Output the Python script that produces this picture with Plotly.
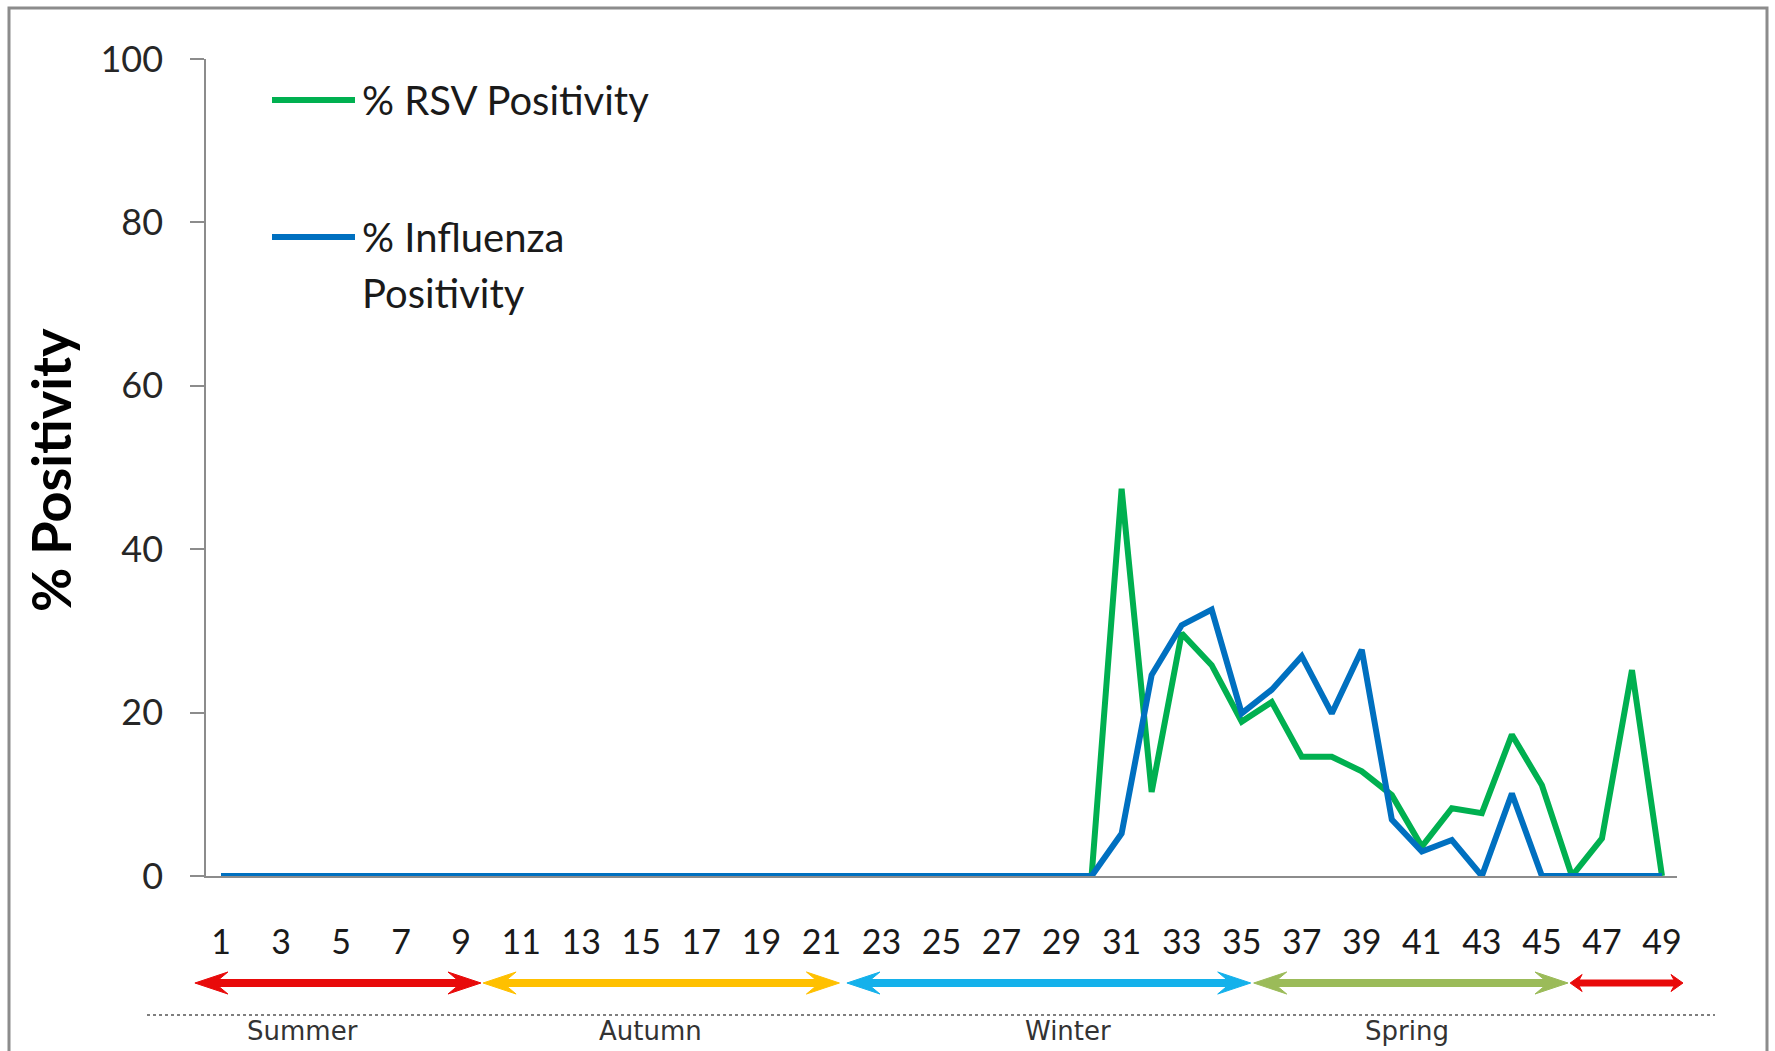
import plotly.graph_objects as go

# ---------------- data ----------------
weeks = list(range(1, 50))
rsv_positivity = [0, 0, 0, 0, 0, 0, 0, 0, 0, 0,
                  0, 0, 0, 0, 0, 0, 0, 0, 0, 0,
                  0, 0, 0, 0, 0, 0, 0, 0, 0, 0,
                  47.4, 10.3, 29.7, 25.8, 18.9, 21.3, 14.6, 14.6, 12.8, 9.9,
                  3.6, 8.3, 7.7, 17.3, 11.1, 0, 4.6, 25.2, 0]
flu_positivity = [0, 0, 0, 0, 0, 0, 0, 0, 0, 0,
                  0, 0, 0, 0, 0, 0, 0, 0, 0, 0,
                  0, 0, 0, 0, 0, 0, 0, 0, 0, 0,
                  5.2, 24.6, 30.7, 32.6, 19.9, 22.8, 26.9, 19.9, 27.7, 6.9,
                  3.0, 4.4, 0, 10.1, 0, 0, 0, 0, 0]
x_tick_weeks = list(range(1, 50, 2))
y_ticks = [0, 20, 40, 60, 80, 100]

season_arrow_start = [0.13, 9.73, 21.85, 35.4, 45.94]
season_arrow_end = [9.66, 21.6, 35.3, 45.87, 49.7]
season_names = ["Summer", "Autumn", "Winter", "Spring"]
season_label_week = [3.7, 15.3, 29.2, 40.5]

# ---------------- styles / layout geometry ----------------
W, H = 1775, 1051
ML, MR, MT, MB = 206, 98, 59, 175
PW, PH = W - ML - MR, H - MT - MB
XR = [0.5, 49.5]
GREEN, BLUE = "#00B050", "#0070C0"
AXIS_GREY = "#8C8C8C"
arrow_colors = ["#E80A0A", "#FFC000", "#14B1EB", "#9BBB59", "#E80A0A"]
arrow_big = [True, True, True, True, False]
FONT = "Lato"


def px_x(px):
    return (px - ML) / PW


def px_y(py):
    return (H - MB - py) / PH


def week_x(w):
    return (w - XR[0]) / (XR[1] - XR[0])


fig = go.Figure()
fig.add_trace(go.Scatter(x=weeks, y=rsv_positivity, mode="lines", name="% RSV Positivity",
                         line=dict(color=GREEN, width=6), showlegend=False))
fig.add_trace(go.Scatter(x=weeks, y=flu_positivity, mode="lines", name="% Influenza Positivity",
                         line=dict(color=BLUE, width=6), showlegend=False))

shapes = []
annotations = []

# outer frame
shapes.append(dict(type="rect", xref="paper", yref="paper",
                   x0=px_x(9), x1=px_x(1767), y0=px_y(1200), y1=px_y(8),
                   line=dict(color=AXIS_GREY, width=3), fillcolor="rgba(0,0,0,0)", layer="below"))

# legend (manual)
shapes.append(dict(type="line", xref="paper", yref="paper", x0=px_x(272), x1=px_x(355),
                   y0=px_y(100), y1=px_y(100), line=dict(color=GREEN, width=6)))
shapes.append(dict(type="line", xref="paper", yref="paper", x0=px_x(272), x1=px_x(355),
                   y0=px_y(237), y1=px_y(237), line=dict(color=BLUE, width=6)))
for txt, py in [("% RSV Positivity", 100), ("% Influenza", 237), ("Positivity", 293)]:
    annotations.append(dict(text=txt, xref="paper", yref="paper", x=px_x(360), y=px_y(py),
                            xanchor="left", yanchor="middle", showarrow=False,
                            font=dict(family=FONT, size=40, color="#1a1a1a")))

# y title
annotations.append(dict(text="% Positivity", xref="paper", yref="paper", x=px_x(50), y=px_y(470),
                        xanchor="center", yanchor="middle", textangle=-90, showarrow=False,
                        font=dict(family=FONT, size=54, color="#000000", weight="bold")))

# season arrows
yc = px_y(983)
for s, e, col, big in zip(season_arrow_start, season_arrow_end, arrow_colors, arrow_big):
    x0, x1 = week_x(s), week_x(e)
    L = (33 if big else 12) / PW
    N = (24 if big else 9) / PW
    hh = (11 if big else 8.5) / PH
    t = (3.5 if big else 3) / PH
    path = (f"M {x0},{yc} L {x0+L},{yc+hh} L {x0+N},{yc+t} L {x1-N},{yc+t} "
            f"L {x1-L},{yc+hh} L {x1},{yc} L {x1-L},{yc-hh} L {x1-N},{yc-t} "
            f"L {x0+N},{yc-t} L {x0+L},{yc-hh} Z")
    shapes.append(dict(type="path", xref="paper", yref="paper", path=path,
                       fillcolor=col, line=dict(color=col, width=1)))

# dotted separator
shapes.append(dict(type="line", xref="paper", yref="paper", x0=px_x(147), x1=px_x(1715),
                   y0=px_y(1015), y1=px_y(1015), line=dict(color="#555555", width=1.5, dash="dot")))

# season labels
for name, wk in zip(season_names, season_label_week):
    annotations.append(dict(text=name, xref="paper", yref="paper", x=week_x(wk), y=px_y(1031),
                            xanchor="center", yanchor="middle", showarrow=False,
                            font=dict(family="DejaVu Sans", size=26, color="#333333")))

fig.update_layout(
    width=W, height=H,
    margin=dict(l=ML, r=MR, t=MT, b=MB, autoexpand=False),
    paper_bgcolor="white", plot_bgcolor="white",
    shapes=shapes, annotations=annotations,
    xaxis=dict(range=XR, tickmode="array", tickvals=x_tick_weeks, ticktext=[str(w) for w in x_tick_weeks],
               showline=True, linecolor=AXIS_GREY, linewidth=1.5, ticks="", showgrid=False,
               zeroline=False, tickfont=dict(family=FONT, size=34, color="#1a1a1a"),
               ticklabelstandoff=35, automargin=False, fixedrange=True),
    yaxis=dict(range=[0, 100], tickmode="array", tickvals=y_ticks,
               showline=True, linecolor=AXIS_GREY, linewidth=1.5, ticks="outside", ticklen=14,
               tickcolor=AXIS_GREY, tickwidth=1.5, showgrid=False, zeroline=False,
               tickfont=dict(family=FONT, size=36, color="#262626"),
               ticklabelstandoff=20, automargin=False, fixedrange=True),
)

fig.write_html("out.html", config={"displayModeBar": False},
               post_script="document.body.style.margin='0';document.body.style.overflow='hidden';")
